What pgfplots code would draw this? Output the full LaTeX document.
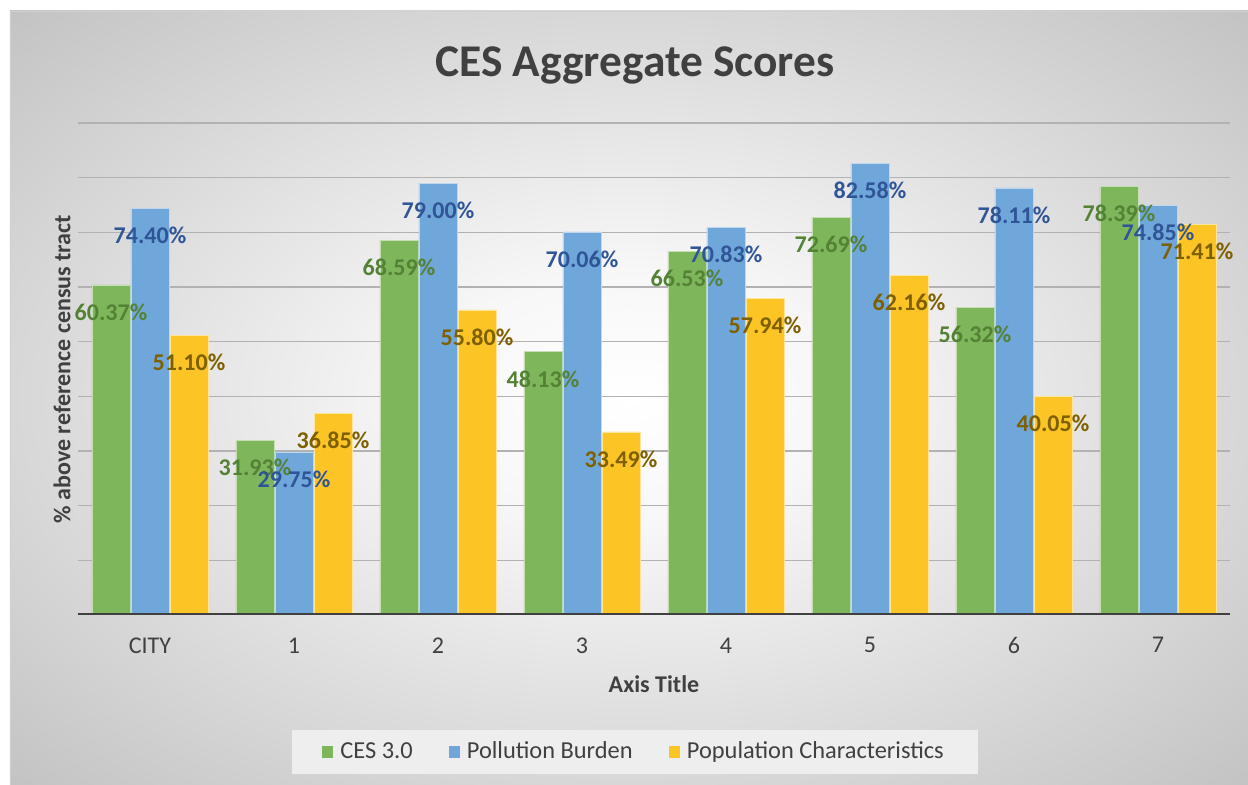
\documentclass[border=0pt]{standalone}
\usepackage{fontspec}
\setmainfont{Carlito}
\usepackage{pgfplots}
\pgfplotsset{compat=1.18}
\usepackage{pgfplotstable}

\definecolor{cesgreen}{HTML}{7EB65C}
\definecolor{pbblue}{HTML}{6FA7DB}
\definecolor{pcgold}{HTML}{FCC525}
\definecolor{cesgreenD}{HTML}{548235}
\definecolor{pbblueD}{HTML}{2F5597}
\definecolor{pcgoldD}{HTML}{7F6000}
\definecolor{txt}{HTML}{404040}
\definecolor{legbg}{HTML}{EEEEEE}

\pgfdeclareradialshading{chartbg}{\pgfpoint{0bp}{0bp}}{%
  color(0bp)=(white); color(8bp)=(white!97!black);
  color(36bp)=(black!24); color(50bp)=(black!24)}

% aggregate scores, % above reference census tract
\pgfplotstableread{
x ces pb pc
0 60.37 74.40 51.10
1 31.93 29.75 36.85
2 68.59 79.00 55.80
3 48.13 70.06 33.49
4 66.53 70.83 57.94
5 72.69 82.58 62.16
6 56.32 78.11 40.05
7 78.39 74.85 71.41
}\scores

\begin{document}
\begin{tikzpicture}
\path[use as bounding box] (-39pt,-85pt) rectangle (585pt,307.5pt);
\shadedraw[shading=chartbg, draw=black!18] (-34pt,-85pt) rectangle (585pt,302pt);
\begin{axis}[
  scale only axis, width=576pt, height=246pt,
  xmin=-0.5, xmax=7.5, ymin=0, ymax=90,
  ybar=0.5pt, bar width=0.264,
  xtick={0,...,7}, xticklabels={CITY,1,2,3,4,5,6,7},
  ytick={10,20,...,90}, yticklabels={},
  ymajorgrids, grid style={black!30, line width=0.7pt},
  axis line style={draw=none}, tick style={draw=none},
  tick label style={text=txt, font=\fontsize{12}{14}\selectfont},
  xticklabel style={yshift=-3.5pt},
  xlabel={Axis Title}, ylabel={\% above reference census tract},
  every axis x label/.style={at={([yshift=-34.5pt]axis description cs:0.5,0)},
    anchor=center, text=txt, font=\bfseries\fontsize{12}{14}\selectfont},
  every axis y label/.style={at={([xshift=-8pt]axis description cs:0,0.5)},
    rotate=90, anchor=center, text=txt, font=\bfseries\fontsize{12}{14}\selectfont},
  title={CES Aggregate Scores},
  every axis title/.style={at={([yshift=29pt]axis description cs:0.4835,1)},
    anchor=center, text=txt, font=\bfseries\fontsize{22.7}{27}\selectfont},
  legend columns=3, legend cell align=left,
  legend image code/.code={\draw[#1, draw=none] (0pt,-2.8pt) rectangle (5.6pt,2.8pt);},
  legend style={at={(0.4835,0)}, anchor=center, yshift=-68.5pt,
    draw=none, fill=legbg,
    inner xsep=15pt, inner ysep=4pt, text=txt,
    font=\fontsize{12.2}{14}\selectfont,
    /tikz/every odd column/.append style={column sep=1.5pt},
    /tikz/every even column/.append style={column sep=16pt}},
  nodes near coords={\pgfmathprintnumber[fixed,fixed zerofill,precision=2,assume math mode=true]{\pgfplotspointmeta}\%},
  point meta=y,
  every node near coord/.append style={anchor=center, yshift=-13.5pt,
    font=\bfseries\fontsize{12}{14}\selectfont},
]
\addplot[fill=cesgreen, draw=white!55!cesgreen, line width=0.4pt,
  every node near coord/.append style={text=cesgreenD}]
  table[x=x, y=ces] {\scores};
\addplot[fill=pbblue, draw=white!55!pbblue, line width=0.4pt,
  every node near coord/.append style={text=pbblueD}]
  table[x=x, y=pb] {\scores};
\addplot[fill=pcgold, draw=white!55!pcgold, line width=0.4pt,
  every node near coord/.append style={text=pcgoldD}]
  table[x=x, y=pc] {\scores};
\legend{CES 3.0, Pollution Burden, Population Characteristics}
\draw[txt, line width=1.5pt] (axis cs:-0.5,0) -- (axis cs:7.5,0);
\end{axis}
\end{tikzpicture}
\end{document}
